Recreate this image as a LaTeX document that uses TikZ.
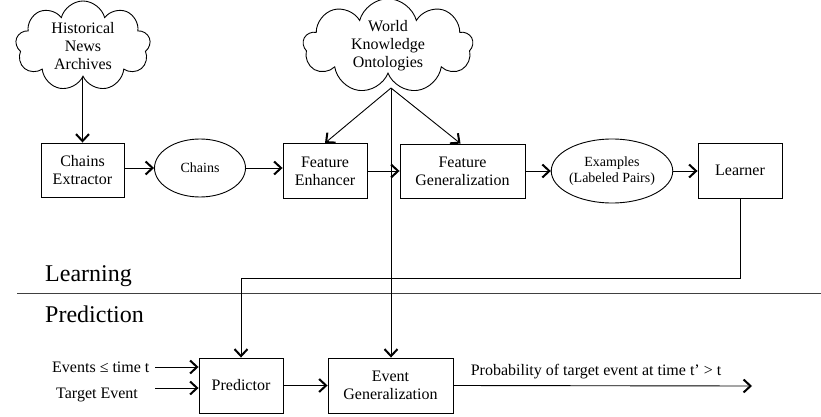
\documentclass[tikz,border=0pt]{standalone}
\usepackage{fontspec}
\setmainfont{Liberation Serif}
\newfontfamily\serfont{Liberation Serif}
\usetikzlibrary{arrows.meta,shapes.geometric,shapes.symbols}
\begin{document}
\begin{tikzpicture}[x=1pt,y=-1pt,
  every node/.style={font=\serfont\fontsize{16}{18}\selectfont, align=center},
  procbox/.style={draw, line width=0.9pt, inner sep=0pt},
  dataell/.style={draw, ellipse, line width=0.9pt, inner sep=0pt, font=\serfont\fontsize{14}{16}\selectfont},
  srccloud/.style={draw, cloud, cloud puffs=9, cloud ignores aspect, line width=0.9pt, inner sep=0pt},
  conn/.style={line width=0.9pt, -{Straight Barb[length=7pt,width=13pt,line width=2pt]}},
  section/.style={font=\serfont\fontsize{24}{28}\selectfont, anchor=base west, inner sep=0pt},
  inlabel/.style={font=\serfont\fontsize{16}{18}\selectfont, anchor=base west, inner sep=0pt}
]
\useasboundingbox (0,0) rectangle (821,417);

% clouds
\node[srccloud, minimum width=135pt, minimum height=90pt] (hist) at (83,46) {Historical\\News\\Archives};
\node[srccloud, minimum width=170pt, minimum height=84pt] (world) at (388,46) {World\\Knowledge\\Ontologies};
\coordinate (wk) at (391,88);

% learning row
\node[procbox, minimum width=83pt, minimum height=54pt] (ce) at (82.5,170) {Chains\\Extractor};
\node[dataell, minimum width=91pt, minimum height=58pt] (ch) at (200,168) {Chains};
\node[procbox, minimum width=84pt, minimum height=55pt] (fe) at (325,171) {Feature\\Enhancer};
\node[procbox, minimum width=125pt, minimum height=54pt] (fg) at (462.5,171) {Feature\\Generalization};
\node[dataell, minimum width=113pt, minimum height=64pt] (ex) at (612,171) {Examples\\(Labeled Pairs)};
\node[procbox, minimum width=84pt, minimum height=55pt] (lr) at (740,170.5) {Learner};

% prediction row
\node[procbox, minimum width=84pt, minimum height=55pt] (pr) at (241,385.5) {Predictor};
\node[procbox, minimum width=125pt, minimum height=55pt] (eg) at (390.5,385.5) {Event\\Generalization};

% section labels and separator
\node[section] (learn) at (45,281) {Learning};
\node[section] (pred) at (45,322) {Prediction};
\coordinate (sepL) at (17,293);
\coordinate (sepR) at (821,293);
\draw[line width=0.8pt, draw=black!75] (sepL) -- (sepR);

% inputs
\node[inlabel] (evt) at (52,372) {Events ≤ time t};
\node[inlabel] (tgt) at (56,398) {Target Event};
\coordinate (evtS) at (155,367);
\coordinate (tgtS) at (155,388);
\coordinate (outE) at (752,386);
\node[inlabel, anchor=base] (prob) at (596,375) {Probability of target event at time t’ > t};

% connectors
\draw[conn] (hist.south -| ce.north) -- (ce.north);
\draw[conn] (ce.east |- ch.west) -- (ch.west);
\draw[conn] (ch.east) -- (fe.west |- ch.east);
\draw[conn] (fe.east) -- (fg.west);
\draw[conn] (fg.east) -- (ex.west);
\draw[conn] (ex.east) -- (lr.west |- ex.east);
\draw[conn] (wk) -- (fe.north);
\draw[conn] (wk) -- ([xshift=-2pt]fg.north);
\draw[conn] (wk) -- (eg.north -| wk);
\draw[conn] (lr.south) -- ++(0,80) -| (pr.north);
\draw[conn] (evtS) -- (pr.west |- evtS);
\draw[conn] (tgtS) -- (pr.west |- tgtS);
\draw[conn] (pr.east) -- (eg.west);
\draw[conn] (eg.east) -- (outE);
\end{tikzpicture}
\end{document}
